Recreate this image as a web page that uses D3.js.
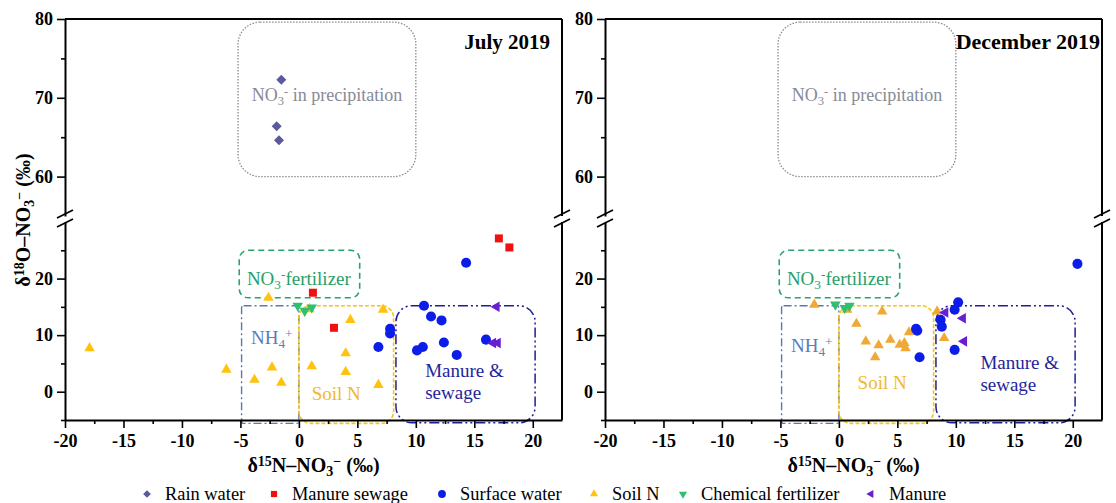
<!DOCTYPE html>
<html>
<head>
<meta charset="utf-8">
<script src="https://cdnjs.cloudflare.com/ajax/libs/d3/7.8.5/d3.min.js"></script>
<style>
  body { margin: 0; background: #fff; }
</style>
</head>
<body>
<svg id="chart" width="1116" height="503"></svg>
<script>
const FONT = "'Liberation Serif', 'Times New Roman', serif";

// ticks
const xTicks = [-20, -15, -10, -5, 0, 5, 10, 15, 20];
const xMinor = [-17.5, -12.5, -7.5, -2.5, 2.5, 7.5, 12.5, 17.5];
const yTicksUpper = [60, 70, 80];
const yMinorUpper = [65, 75];
const yTicksLower = [0, 10, 20];
const yMinorLower = [-5, 5, 15, 25];

// July 2019 samples  [d15N, d18O]
const julyRain = [[-1.5, 72.3], [-1.9, 66.4], [-1.7, 64.6]];
const julySewage = [[17.1, 27.1], [18.0, 25.5], [1.2, 17.5], [3.0, 11.3]];
const julySurface = [[14.3, 22.8], [10.7, 15.2], [11.3, 13.3], [12.2, 12.6], [7.8, 11.1], [7.8, 10.3],
  [6.8, 7.9], [12.4, 8.7], [10.1, 7.3], [10.6, 7.9], [13.5, 6.5], [16.0, 9.2]];
const julySoil = [[-17.9, 7.7], [-6.2, 3.9], [-3.8, 2.1], [-2.3, 4.3], [-1.5, 1.6], [-2.6, 16.6],
  [7.2, 14.5], [4.4, 12.7], [4.0, 6.8], [1.1, 4.5], [4.0, 3.5], [6.8, 1.2], [0.9, 14.6]];
const julyFert = [[-0.1, 15.2], [0.5, 14.3], [1.1, 14.9]];
const julyManure = [[16.9, 15.0], [16.6, 8.6], [17.0, 8.6]];

// December 2019 samples
const decRain = [];
const decSewage = [];
const decSurface = [[20.4, 22.6], [10.2, 15.8], [9.9, 14.5], [8.7, 12.7], [8.8, 11.5], [6.6, 11.1],
  [6.7, 10.8], [6.9, 6.1], [9.9, 7.4]];
const decSoil = [[-2.1, 15.4], [3.7, 14.2], [1.5, 12.0], [8.4, 14.2], [2.3, 8.9], [3.4, 8.2], [4.4, 9.2],
  [3.1, 6.1], [5.2, 8.3], [5.6, 8.6], [5.7, 7.7], [6.0, 10.5], [9.0, 9.5], [0.7, 14.5]];
const decFert = [[-0.3, 15.4], [0.5, 14.8], [0.9, 15.2]];
const decManure = [[9.1, 14.0], [10.6, 13.0], [10.7, 8.9]];

// source boxes [x0, x1, y0, y1]
const precipBox = [-5.2, 10, 60, 79.6];
const fertBox = [-5.1, 5.2, 16.6, 25];
const nh4Box = [-4.9, 0, -5.6, 15.2];
const soilBox = [0, 8.1, -5.6, 15.2];
const manureBox = [8.3, 20.2, -5.5, 15.2];

const legendNames = ["Rain water", "Manure sewage", "Surface water", "Soil N", "Chemical fertilizer", "Manure"];

const svg = d3.select("#chart").attr("font-family", FONT);

// marker styles
const markers = {
  rain:    { type: d3.symbolSquare, size: 50, rot: 45, color: "#5a5a9c" },
  sewage:  { type: d3.symbolSquare, size: 64, rot: 0, color: "#f01010" },
  surface: { type: d3.symbolCircle, size: 80, rot: 0, color: "#0c1de8" },
  soil:    { type: d3.symbolTriangle, size: 48, rot: 0, color: "#ffc20e" },
  fert:    { type: d3.symbolTriangle, size: 48, rot: 180, color: "#2fbf6e" },
  manure:  { type: d3.symbolTriangle, size: 48, rot: -90, color: "#6a1ed2" }
};

function richText(g, x, y, parts, attrs) {
  const t = g.append("text").attr("x", x).attr("y", y).attr("font-family", FONT);
  Object.entries(attrs).forEach(([k, v]) => t.attr(k, v));
  let shift = 0;
  parts.forEach(p => {
    const s = t.append("tspan").text(p[0]);
    let target = 0;
    if (p[1] === "sub") { target = 4; s.attr("font-size", "0.7em"); }
    if (p[1] === "sup") { target = -6; s.attr("font-size", "0.7em"); }
    s.attr("dy", target - shift);
    shift = target;
  });
  return t;
}

function breakMark(g, x, y) {
  g.append("line").attr("x1", x - 8).attr("y1", y + 4).attr("x2", x + 8).attr("y2", y - 4)
    .attr("stroke", "#000").attr("stroke-width", 1.8);
}

function drawPanel(p) {
  const g = svg.append("g");
  const x = d3.scaleLinear().domain([-20, 22.5]).range([p.left, p.right]);
  const yU = d3.scaleLinear().domain([55, 80]).range([216, 19]);
  const yL = d3.scaleLinear().domain([-5, 30]).range([420, 222]);
  const bottom = yL(-5);

  // source boxes
  function box(b, scale, style) {
    g.append("rect")
      .attr("x", x(b[0])).attr("y", scale(b[3]))
      .attr("width", x(b[1]) - x(b[0])).attr("height", scale(b[2]) - scale(b[3]))
      .attr("rx", style.rx).attr("fill", "none")
      .attr("stroke", style.color).attr("stroke-width", style.w)
      .attr("stroke-dasharray", style.dash);
  }
  box(precipBox, yU, { rx: 22, color: "#8c8c8c", w: 1.3, dash: "1.5,1.5" });
  box(fertBox, yL, { rx: 9, color: "#2aa36b", w: 1.6, dash: "6,4" });
  box(nh4Box, yL, { rx: 2, color: "#5b78b3", w: 1.4, dash: "8,3,2,3" });
  box(soilBox, yL, { rx: 12, color: "#f5c518", w: 1.6, dash: "4,2" });
  box(manureBox, yL, { rx: 16, color: "#1e1e96", w: 1.5, dash: "10,3,2,3,2,3" });

  // box labels
  richText(g, x(2.4), 101, [["NO"], ["3", "sub"], ["-", "sup"], [" in precipitation"]],
    { fill: "#868a96", "text-anchor": "middle", "font-size": 18 });
  richText(g, x(0), 285, [["NO"], ["3", "sub"], ["-", "sup"], ["fertilizer"]],
    { fill: "#26a06a", "text-anchor": "middle", "font-size": 19 });
  richText(g, x(-4.1), p.nh4Y, [["NH"], ["4", "sub"], ["+", "sup"]],
    { fill: "#5b7cc0", "font-size": 19 });
  g.append("text").attr("x", x(p.soilX)).attr("y", p.soilY).attr("font-size", 19)
    .attr("fill", "#f4b72a").text("Soil N");
  g.append("text").attr("x", x(p.manX)).attr("y", p.manY).attr("font-size", 19)
    .attr("fill", "#25259a").text("Manure &");
  g.append("text").attr("x", x(p.manX)).attr("y", p.manY + 22).attr("font-size", 19)
    .attr("fill", "#25259a").text("sewage");

  // frame
  g.append("line").attr("x1", p.left).attr("x2", p.right).attr("y1", 19).attr("y2", 19)
    .attr("stroke", "#000").attr("stroke-width", 2);
  g.append("line").attr("x1", p.right).attr("x2", p.right).attr("y1", 19).attr("y2", 216)
    .attr("stroke", "#000").attr("stroke-width", 2);
  g.append("line").attr("x1", p.right).attr("x2", p.right).attr("y1", 222).attr("y2", bottom)
    .attr("stroke", "#000").attr("stroke-width", 2);

  // axes
  const fmt = d => String(d);
  g.append("g").attr("transform", `translate(0,${bottom})`)
    .call(d3.axisBottom(x).tickValues(xTicks).tickSize(8).tickSizeOuter(0).tickPadding(6).tickFormat(fmt));
  g.append("g").attr("transform", `translate(0,${bottom})`)
    .call(d3.axisBottom(x).tickValues(xMinor).tickSize(4).tickSizeOuter(0).tickFormat(""))
    .select(".domain").remove();
  g.append("g").attr("transform", `translate(${p.left},0)`)
    .call(d3.axisLeft(yU).tickValues(yTicksUpper).tickSize(8).tickSizeOuter(0).tickPadding(4).tickFormat(fmt));
  g.append("g").attr("transform", `translate(${p.left},0)`)
    .call(d3.axisLeft(yU).tickValues(yMinorUpper).tickSize(4).tickSizeOuter(0).tickFormat(""))
    .select(".domain").remove();
  g.append("g").attr("transform", `translate(${p.left},0)`)
    .call(d3.axisLeft(yL).tickValues(yTicksLower).tickSize(8).tickSizeOuter(0).tickPadding(4).tickFormat(fmt));
  g.append("g").attr("transform", `translate(${p.left},0)`)
    .call(d3.axisLeft(yL).tickValues(yMinorLower).tickSize(4).tickSizeOuter(0).tickFormat(""))
    .select(".domain").remove();
  g.selectAll(".domain").attr("stroke-width", 2);
  g.selectAll(".tick line").attr("stroke-width", 1.6);
  g.selectAll("g").attr("font-family", FONT);
  g.selectAll(".tick text").attr("font-family", FONT).attr("font-size", 18)
    .attr("font-weight", "bold").attr("fill", "#000");

  breakMark(g, p.left, 214);
  breakMark(g, p.left, 223);
  breakMark(g, p.right, 214);
  breakMark(g, p.right, 223);

  // points
  function pts(data, m, color) {
    g.selectAll(null).data(data).enter().append("path")
      .attr("d", d3.symbol().type(m.type).size(m.size))
      .attr("transform", d => `translate(${x(d[0])},${d[1] > 50 ? yU(d[1]) : yL(d[1])}) rotate(${m.rot})`)
      .attr("fill", color || m.color);
  }
  pts(p.soil, markers.soil, p.soilColor);
  pts(p.fert, markers.fert);
  pts(p.rain, markers.rain);
  pts(p.sewage, markers.sewage);
  pts(p.surface, markers.surface);
  pts(p.manure, markers.manure);

  // titles
  g.append("text").attr("x", p.right - p.titlePad).attr("y", 49).attr("text-anchor", "end")
    .attr("font-size", p.titleSize).attr("font-weight", "bold").text(p.title);
  richText(g, (p.left + p.right) / 2, 472, [["δ"], ["15", "sup"], ["N–NO"], ["3", "sub"], ["−", "sup"], [" (‰)"]],
    { "font-size": 20, "font-weight": "bold", "text-anchor": "middle" });
}

drawPanel({
  left: 65, right: 562, title: "July 2019", titlePad: 12, titleSize: 21,
  rain: julyRain, sewage: julySewage, surface: julySurface, soil: julySoil, fert: julyFert, manure: julyManure,
  soilColor: "#ffc20e", nh4Y: 344, soilX: 1.1, soilY: 400, manX: 10.8, manY: 377
});
drawPanel({
  left: 605, right: 1102, title: "December 2019", titlePad: 2, titleSize: 22,
  rain: decRain, sewage: decSewage, surface: decSurface, soil: decSoil, fert: decFert, manure: decManure,
  soilColor: "#f0a935", nh4Y: 352, soilX: 1.6, soilY: 389, manX: 12.1, manY: 369
});

// y axis label
richText(svg.append("g").attr("transform", "translate(30,220) rotate(-90)"), 0, 0,
  [["δ"], ["18", "sup"], ["O–NO"], ["3", "sub"], ["−", "sup"], [" (‰)"]],
  { "font-size": 20, "font-weight": "bold", "text-anchor": "middle" });

// legend
const legendKeys = ["rain", "sewage", "surface", "soil", "fert", "manure"];
const legendX = [147, 274, 442, 594, 683, 871];
const lg = svg.append("g");
legendKeys.forEach((k, i) => {
  const m = markers[k];
  lg.append("path")
    .attr("d", d3.symbol().type(m.type).size(m.size * 0.6))
    .attr("transform", `translate(${legendX[i]},494) rotate(${m.rot})`)
    .attr("fill", m.color);
  lg.append("text").attr("x", legendX[i] + 18).attr("y", 500).attr("font-size", 18.4)
    .attr("font-family", FONT).text(legendNames[i]);
});
</script>
</body>
</html>
